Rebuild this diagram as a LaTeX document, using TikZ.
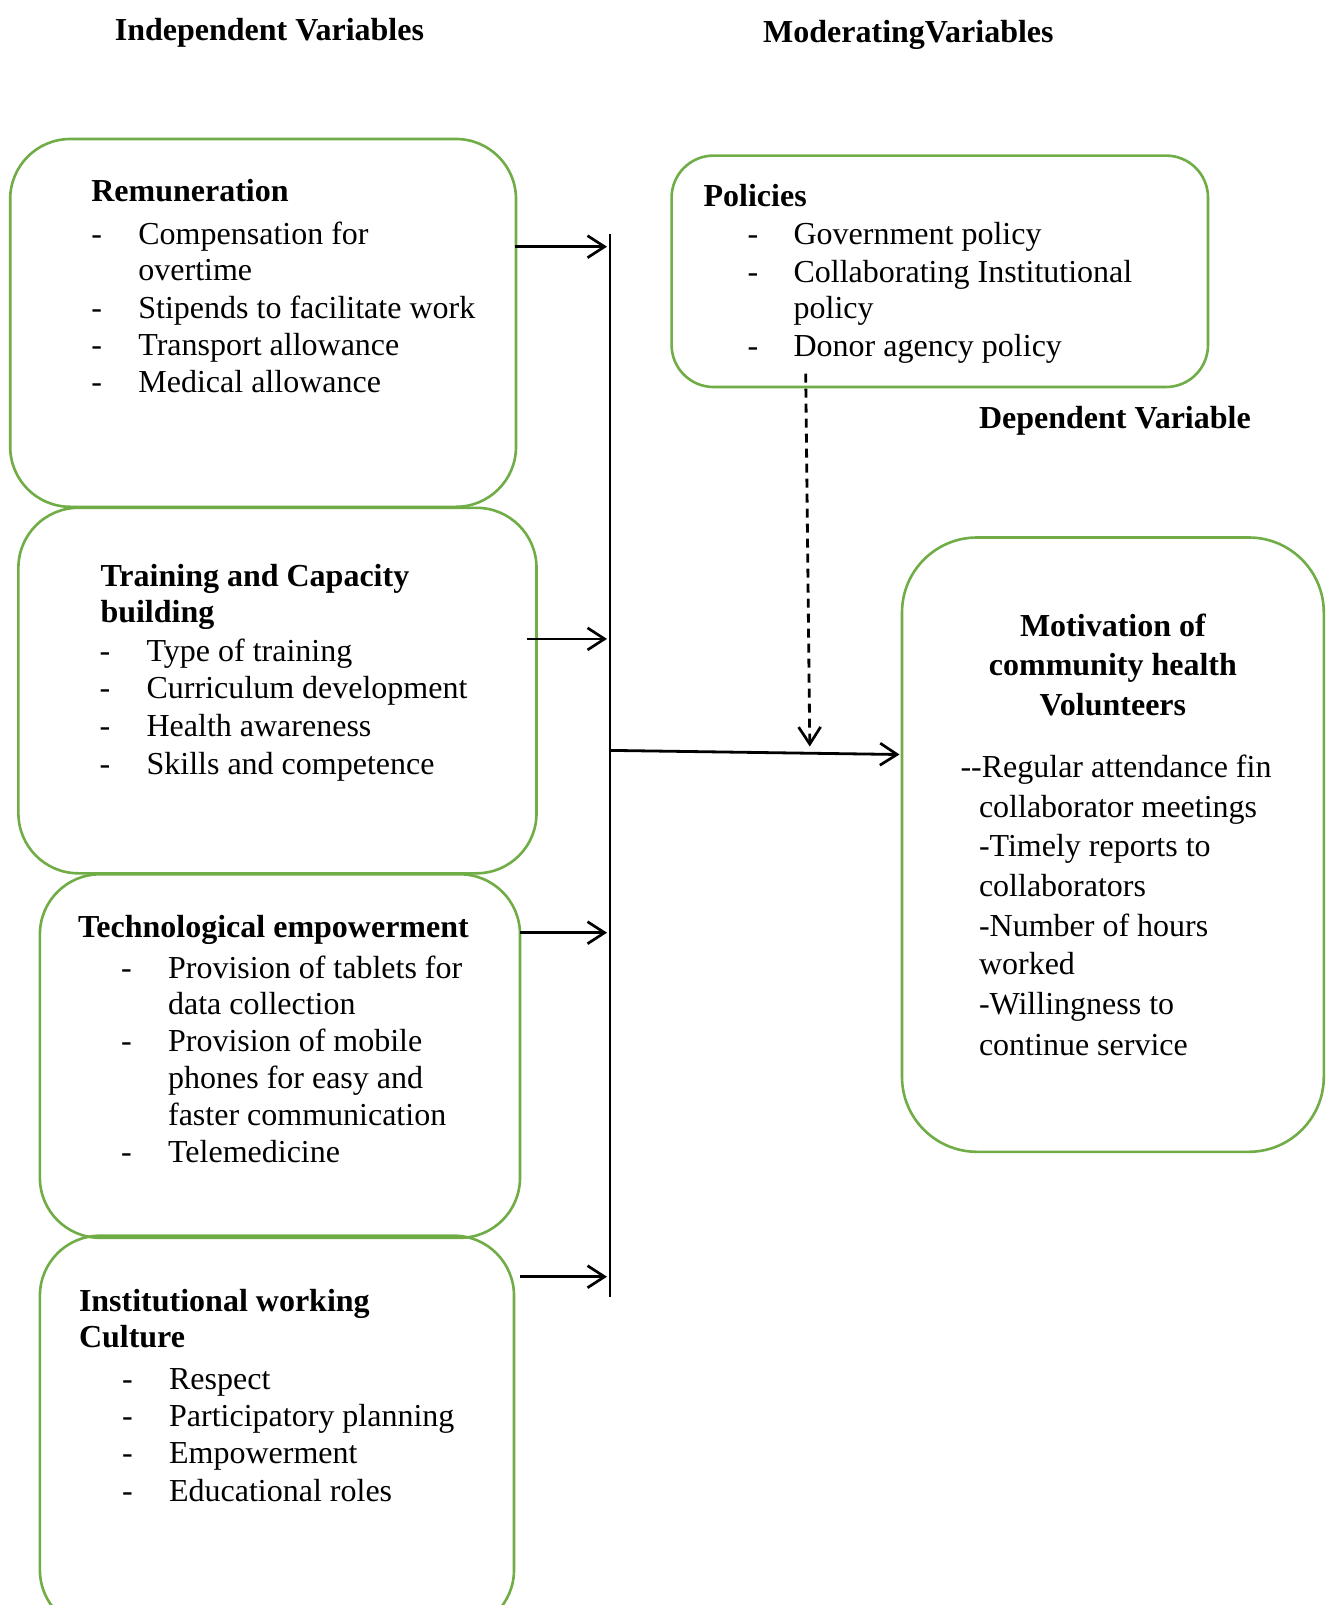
\documentclass[tikz,border=0pt]{standalone}
\usepackage{fontspec}
\setmainfont{Liberation Serif}
\usetikzlibrary{arrows.meta}
\definecolor{boxgreen}{HTML}{70AD47}
\tikzset{
  vbox/.style={draw=boxgreen, line width=2.6pt, rounded corners=#1, inner sep=0pt},
  txt/.style={anchor=west, inner sep=0pt, yshift=-4pt, text height=22pt, text depth=7pt, font=\fontsize{32}{37}\selectfont},
  ttl/.style={txt, font=\fontsize{32}{37}\selectfont\bfseries},
  ctl/.style={ttl, anchor=center},
  arr/.style={-{Straight Barb[length=17pt,width=22pt,line width=2.7pt]}, line width=2.8pt, black},
  darr/.style={arr, dash pattern=on 9pt off 6pt},
  busline/.style={line width=1.8pt, black}
}
\begin{document}
\begin{tikzpicture}[x=1pt,y=-1pt]
\clip (0,0) rectangle (1332,1605);
\fill[white] (0,0) rectangle (1332,1605);

% headings
\node[ttl] (hind) at (114.7,28.7) {Independent Variables};
\node[ttl] (hmod) at (763,30.7) {ModeratingVariables};
\node[ttl] (hdep) at (978.8,416.7) {Dependent Variable};

% boxes
\node[vbox=60, minimum width=505.8pt, minimum height=367.8pt] (rem) at (263.1,322.9) {};
\node[vbox=60, minimum width=518.1pt, minimum height=365.5pt] (trn) at (277.45,690.55) {};
\node[vbox=60, minimum width=480.1pt, minimum height=363.5pt] (tec) at (279.95,1056.05) {};
\node[vbox=60, minimum width=474.1pt, minimum height=394.3pt] (ins) at (276.95,1432.85) {};
\node[vbox=42, minimum width=536.4pt, minimum height=231.4pt] (pol) at (939.8,271.3) {};
\node[vbox=75, minimum width=421.8pt, minimum height=614.3pt] (mot) at (1112.9,844.65) {};

% Remuneration
\node[ttl] (remt) at (91.1,190.4) {Remuneration};
\node[txt] (remd1) at (91.1,233.4) {-};
\node[txt] (rem1) at (138.2,233.4) {Compensation for};
\node[txt] (rem1b) at (138.2,269.3) {overtime};
\node[txt] (remd2) at (91.1,307.1) {-};
\node[txt] (rem2) at (138.2,307.1) {Stipends to facilitate work};
\node[txt] (remd3) at (91.1,344) {-};
\node[txt] (rem3) at (138.2,344) {Transport allowance};
\node[txt] (remd4) at (91.1,380.9) {-};
\node[txt] (rem4) at (138.2,380.9) {Medical allowance};

% Training
\node[ttl] (trnt1) at (100.3,575.4) {Training and Capacity};
\node[ttl] (trnt2) at (100.3,611.2) {building};
\node[txt] (trnd1) at (99.3,650.1) {-};
\node[txt] (trn1) at (146.4,650.1) {Type of training};
\node[txt] (trnd2) at (99.3,687) {-};
\node[txt] (trn2) at (146.4,687) {Curriculum development};
\node[txt] (trnd3) at (99.3,724.9) {-};
\node[txt] (trn3) at (146.4,724.9) {Health awareness};
\node[txt] (trnd4) at (99.3,762.7) {-};
\node[txt] (trn4) at (146.4,762.7) {Skills and competence};

% Technological
\node[ttl] (tect) at (77.8,925.5) {Technological empowerment};
\node[txt] (tecd1) at (120.8,966.5) {-};
\node[txt] (tec1) at (167.9,966.5) {Provision of tablets for};
\node[txt] (tec1b) at (167.9,1003.3) {data collection};
\node[txt] (tecd2) at (120.8,1040.2) {-};
\node[txt] (tec2) at (167.9,1040.2) {Provision of mobile};
\node[txt] (tec2b) at (167.9,1077) {phones for easy and};
\node[txt] (tec2c) at (167.9,1113.9) {faster communication};
\node[txt] (tecd3) at (120.8,1150.8) {-};
\node[txt] (tec3) at (167.9,1150.8) {Telemedicine};

% Institutional
\node[ttl] (inst1) at (78.8,1300.2) {Institutional working};
\node[ttl] (inst2) at (78.8,1336.1) {Culture};
\node[txt] (insd1) at (121.8,1378) {-};
\node[txt] (ins1) at (168.9,1378) {Respect};
\node[txt] (insd2) at (121.8,1414.9) {-};
\node[txt] (ins2) at (168.9,1414.9) {Participatory planning};
\node[txt] (insd3) at (121.8,1451.7) {-};
\node[txt] (ins3) at (168.9,1451.7) {Empowerment};
\node[txt] (insd4) at (121.8,1489.6) {-};
\node[txt] (ins4) at (168.9,1489.6) {Educational roles};

% Policies
\node[ttl] (polt) at (703.4,195.5) {Policies};
\node[txt] (pold1) at (747.4,233.4) {-};
\node[txt] (pol1) at (793.4,233.4) {Government policy};
\node[txt] (pold2) at (747.4,271.3) {-};
\node[txt] (pol2) at (793.4,271.3) {Collaborating Institutional};
\node[txt] (pol2b) at (793.4,307.1) {policy};
\node[txt] (pold3) at (747.4,345) {-};
\node[txt] (pol3) at (793.4,345) {Donor agency policy};

% Motivation
\node[ctl] (mott1) at (1112.9,624.5) {Motivation of};
\node[ctl] (mott2) at (1112.9,664.4) {community health};
\node[ctl] (mott3) at (1112.9,704.4) {Volunteers};
\node[txt] (mot1) at (960.3,765.8) {-{}-Regular attendance fin};
\node[txt] (mot1b) at (978.8,805.7) {collaborator meetings};
\node[txt] (mot2) at (978.8,844.6) {-Timely reports to};
\node[txt] (mot2b) at (978.8,884.6) {collaborators};
\node[txt] (mot3) at (978.8,924.5) {-Number of hours};
\node[txt] (mot3b) at (978.8,963.4) {worked};
\node[txt] (mot4) at (978.8,1003.3) {-Willingness to};
\node[txt] (mot4b) at (978.8,1044.3) {continue service};

% connector coordinates
\coordinate (bustop) at (610.2,234.5);
\coordinate (busbot) at (610.2,1297);
\coordinate (remout) at (515,246.7);
\coordinate (remin) at (607,246.7);
\coordinate (trnout) at (527,638.9);
\coordinate (trnin) at (607,638.9);
\coordinate (tecout) at (520,932.7);
\coordinate (tecin) at (607,932.7);
\coordinate (insout) at (520,1276.7);
\coordinate (insin) at (607,1276.7);
\coordinate (busout) at (610.2,750.4);
\coordinate (motin) at (899.5,754.5);
\coordinate (polout) at (805.7,373.7);
\coordinate (polin) at (809.8,746.5);

% connectors
\draw[busline] (bustop) -- (busbot);
\draw[arr] (remout) -- (remin);
\draw[arr] (trnout) -- (trnin);
\draw[arr] (tecout) -- (tecin);
\draw[arr] (insout) -- (insin);
\draw[arr] (busout) -- (motin);
\draw[darr] (polout) -- (polin);
\end{tikzpicture}
\end{document}
